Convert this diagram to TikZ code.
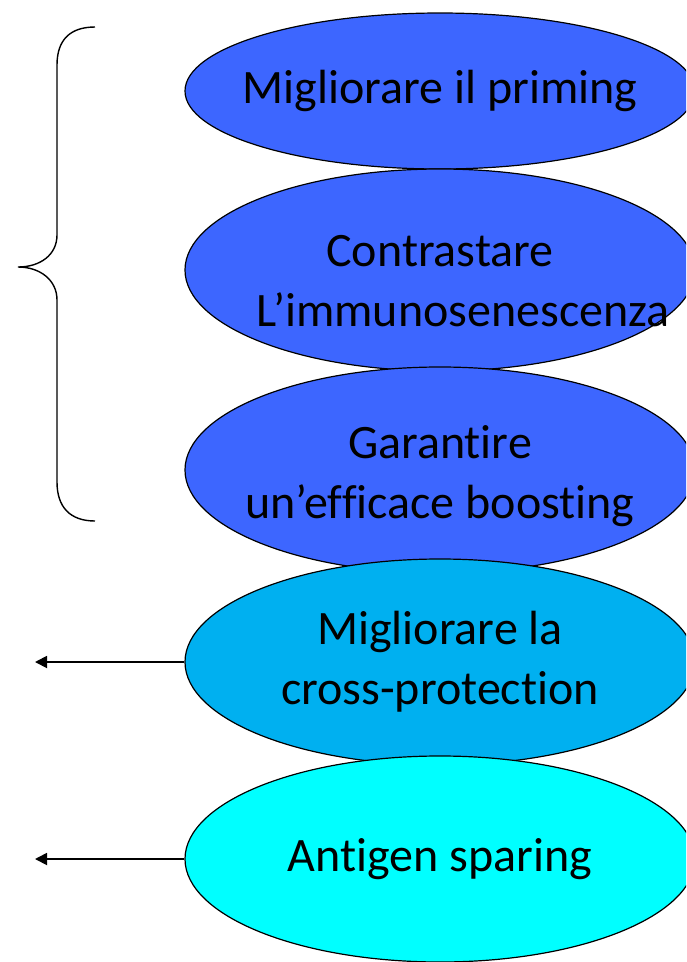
\documentclass[tikz,border=0pt]{standalone}
\usepackage{fontspec}
\setmainfont{Carlito}[Ligatures=NoCommon]
\usepackage{tikz}
\usetikzlibrary{arrows.meta,shapes.geometric,positioning}
\definecolor{PrimeBlue}{RGB}{61,102,255}
\definecolor{SkyBlue}{RGB}{0,176,240}
\definecolor{AquaCyan}{RGB}{0,255,255}

\begin{document}
\begin{tikzpicture}[x=1pt,y=-1pt,>={Triangle[length=12pt,width=12pt]},
    goal/.style={ellipse,draw=black,line width=1.2pt,minimum width=510pt,
      inner xsep=-70pt,inner ysep=0pt,align=center,font=\fontsize{48}{60}\selectfont}]
      \useasboundingbox (0,0) rectangle (686,962);
      \clip (0,0) rectangle (686,962);
      \node[goal,fill=PrimeBlue,minimum height=156pt] (priming) at (440,91) {Migliorare il priming};
      \node[goal,fill=PrimeBlue,minimum height=202pt] (senescence) at (440,270) {\rule{0pt}{54pt}Contrastare\hspace{24pt}\\\hspace{46pt}L’immunosenescenza};
      \node[goal,fill=PrimeBlue,minimum height=206pt] (boosting) at (440,470) {\rule{0pt}{46pt}Garantire\\un’efficace boosting};
      \node[goal,fill=SkyBlue,minimum height=206pt] (crossprot) at (440,662) {Migliorare la\\cross-protection};
      \node[goal,fill=AquaCyan,minimum height=206pt] (sparing) at (440,859) {Antigen sparing};
      \coordinate (crossend) at (35,662);
      \coordinate (sparingend) at (35,859);
      \draw[->,line width=1.8pt] (crossprot.west) -- (crossend);
      \draw[->,line width=1.8pt] (sparing.west) -- (sparingend);
      \draw[line width=1.4pt] (95,27) .. controls (70,27) and (57,40) .. (57,65) -- (57,235)
        .. controls (57,255) and (40,267) .. (18,267)
        .. controls (40,267) and (57,280) .. (57,300) -- (57,482)
        .. controls (57,507) and (70,521) .. (95,521);
    \end{tikzpicture}
\end{document}
